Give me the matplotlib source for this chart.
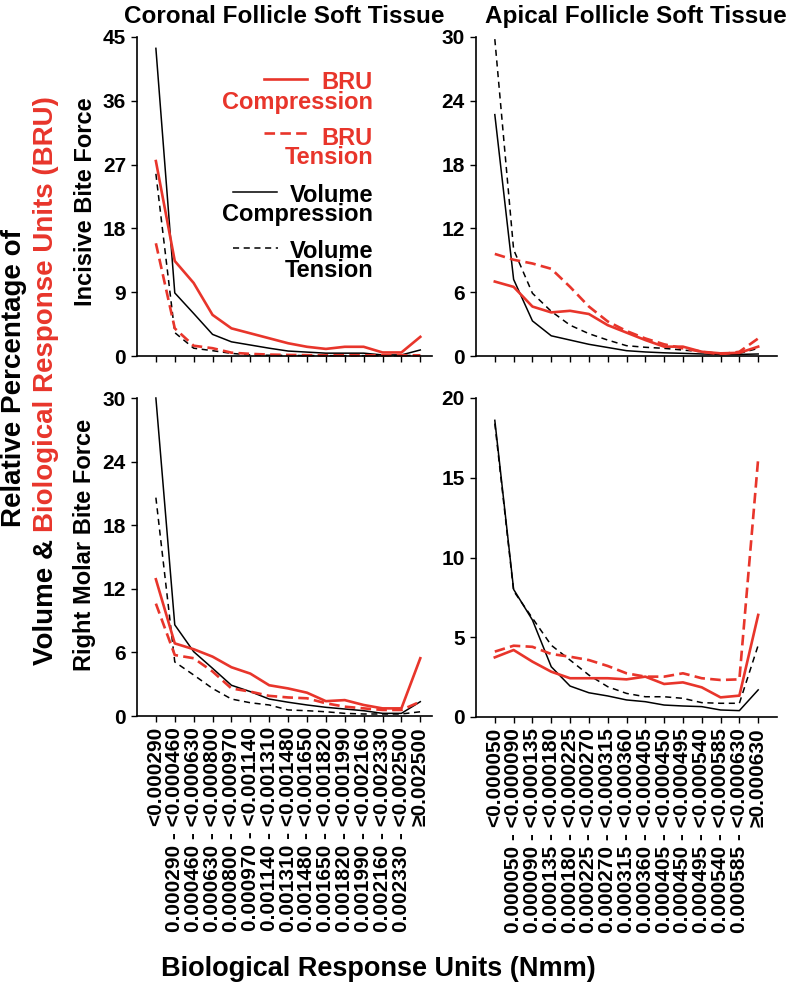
import matplotlib
matplotlib.use('Agg')
import matplotlib.pyplot as plt

plt.rcParams['font.family'] = ['Liberation Sans', 'DejaVu Sans']
plt.rcParams['font.weight'] = 'bold'

RED = '#e8352b'

# bin edges (Nmm) for the two tissues
coronal_edges = ['0.000290', '0.000460', '0.000630', '0.000800', '0.000970', '0.001140', '0.001310',
                 '0.001480', '0.001650', '0.001820', '0.001990', '0.002160', '0.002330', '0.002500']
apical_edges = ['0.000050', '0.000090', '0.000135', '0.000180', '0.000225', '0.000270', '0.000315',
                '0.000360', '0.000405', '0.000450', '0.000495', '0.000540', '0.000585', '0.000630']


def make_labels(edges):
    labels = ['<' + edges[0]]
    for lo, hi in zip(edges[:-1], edges[1:]):
        labels.append(lo + ' - <' + hi)
    labels.append('\u2265' + edges[-1])
    return labels


coronal_labels = make_labels(coronal_edges)
apical_labels = make_labels(apical_edges)

# incisive bite force, coronal follicle
inc_cor_bru_comp = [27.5, 13.4, 10.3, 5.8, 3.9, 3.2, 2.5, 1.8, 1.3, 1.0, 1.3, 1.3, 0.5, 0.5, 2.7]
inc_cor_bru_ten = [15.9, 3.9, 1.45, 1.1, 0.47, 0.3, 0.2, 0.15, 0.12, 0.1, 0.1, 0.1, 0.1, 0.1, 0.1]
inc_cor_vol_comp = [43.4, 8.9, 6.0, 3.05, 2.0, 1.55, 1.1, 0.7, 0.55, 0.4, 0.4, 0.4, 0.15, 0.15, 0.85]
inc_cor_vol_ten = [25.7, 3.3, 1.1, 0.75, 0.37, 0.15, 0.1, 0.08, 0.06, 0.05, 0.05, 0.05, 0.05, 0.05, 0.1]

# incisive bite force, apical follicle
inc_api_bru_comp = [7.0, 6.5, 4.65, 4.1, 4.25, 3.95, 2.9, 2.2, 1.5, 0.88, 0.88, 0.4, 0.25, 0.3, 0.88]
inc_api_bru_ten = [9.6, 9.05, 8.7, 8.2, 6.5, 4.65, 3.25, 2.35, 1.65, 1.1, 0.72, 0.4, 0.15, 0.4, 1.65]
inc_api_vol_comp = [22.7, 7.2, 3.3, 1.9, 1.5, 1.1, 0.8, 0.5, 0.38, 0.3, 0.25, 0.19, 0.15, 0.15, 0.19]
inc_api_vol_ten = [29.8, 10.0, 5.9, 4.2, 2.9, 2.1, 1.5, 0.97, 0.82, 0.72, 0.56, 0.4, 0.25, 0.25, 0.72]

# right molar bite force, coronal follicle
mol_cor_bru_comp = [12.9, 6.85, 6.3, 5.6, 4.6, 4.0, 2.9, 2.6, 2.2, 1.4, 1.5, 1.04, 0.72, 0.72, 5.45]
mol_cor_bru_ten = [10.6, 5.75, 5.45, 4.2, 2.6, 2.3, 1.9, 1.75, 1.67, 1.2, 0.88, 0.72, 0.57, 0.57, 1.35]
mol_cor_vol_comp = [30.0, 8.6, 6.07, 4.5, 2.9, 2.3, 1.6, 1.3, 1.04, 0.82, 0.66, 0.5, 0.25, 0.25, 1.35]
mol_cor_vol_ten = [20.6, 5.1, 3.87, 2.6, 1.6, 1.25, 1.04, 0.57, 0.5, 0.4, 0.25, 0.19, 0.19, 0.19, 0.4]

# right molar bite force, apical follicle
mol_api_bru_comp = [3.74, 4.2, 3.47, 2.84, 2.43, 2.43, 2.43, 2.36, 2.53, 2.07, 2.17, 1.86, 1.23, 1.34, 6.4]
mol_api_bru_ten = [4.1, 4.47, 4.4, 3.95, 3.78, 3.57, 3.2, 2.74, 2.53, 2.53, 2.74, 2.43, 2.32, 2.36, 16.2]
mol_api_vol_comp = [18.6, 8.0, 6.08, 3.15, 1.94, 1.52, 1.32, 1.07, 0.96, 0.75, 0.69, 0.65, 0.44, 0.4, 1.7]
mol_api_vol_ten = [18.4, 7.9, 6.2, 4.5, 3.57, 2.63, 1.9, 1.48, 1.27, 1.27, 1.17, 0.9, 0.86, 0.86, 4.5]

fig = plt.figure(figsize=(7.93, 9.92), dpi=100)
W, H = 793.0, 992.0


def px_axes(x0, y0, x1, y1):
    # pixel box (top-left origin) -> axes
    return fig.add_axes([x0 / W, 1 - y1 / H, (x1 - x0) / W, (y1 - y0) / H])


ax_tl = px_axes(137, 37, 432, 356)
ax_tr = px_axes(476, 37, 777, 356)
ax_bl = px_axes(137, 398, 432, 716)
ax_br = px_axes(476, 398, 777, 717)

panels = [
    (ax_tl, inc_cor_bru_comp, inc_cor_bru_ten, inc_cor_vol_comp, inc_cor_vol_ten, 45, [0, 9, 18, 27, 36, 45], None, 14.62),
    (ax_tr, inc_api_bru_comp, inc_api_bru_ten, inc_api_vol_comp, inc_api_vol_ten, 30, [0, 6, 12, 18, 24, 30], None, 15.0),
    (ax_bl, mol_cor_bru_comp, mol_cor_bru_ten, mol_cor_vol_comp, mol_cor_vol_ten, 30, [0, 6, 12, 18, 24, 30], coronal_labels, 14.62),
    (ax_br, mol_api_bru_comp, mol_api_bru_ten, mol_api_vol_comp, mol_api_vol_ten, 20, [0, 5, 10, 15, 20], apical_labels, 15.0),
]

for ax, bc, bt, vc, vt, ymax, yticks, xlabels, xmax in panels:
    x = list(range(len(bc)))
    ax.plot(x, vc, color='black', lw=1.1, clip_on=False)
    ax.plot(x, vt, color='black', lw=1.1, dashes=(4, 3), clip_on=False)
    ax.plot(x, bc, color=RED, lw=1.9, clip_on=False)
    ax.plot(x, bt, color=RED, lw=1.9, dashes=(4, 2), clip_on=False)
    ax.set_xlim(-1.0, xmax)
    ax.set_ylim(0, ymax)
    ax.set_yticks(yticks)
    ax.set_xticks(x)
    for s in ['top', 'right']:
        ax.spines[s].set_visible(False)
    for s in ['left', 'bottom']:
        ax.spines[s].set_linewidth(1.2)
    ax.tick_params(direction='out', length=4, width=1, pad=4)
    ax.tick_params(axis='y', labelsize=15)
    if xlabels is None:
        ax.set_xticklabels([])
    else:
        ax.set_xticklabels(xlabels, rotation=90, fontsize=15, va='top', ha='center')

ax_tl.set_title('Coronal Follicle Soft Tissue', fontsize=17.5, fontweight='bold', pad=10)
ax_tr.set_title('Apical Follicle Soft Tissue', fontsize=17.5, fontweight='bold', pad=10, x=0.532)

# legend drawn by hand inside the top-left panel
legend_rows = [
    (0.868, 0.43, 0.576, RED, 1.9, None, 'BRU\nCompression', 0.826),
    (0.699, 0.43, 0.576, RED, 1.9, (4, 2), 'BRU\nTension', 0.653),
    (0.514, 0.325, 0.475, 'black', 1.1, None, 'Volume\nCompression', 0.473),
    (0.339, 0.325, 0.478, 'black', 1.1, (4, 3), 'Volume\nTension', 0.298),
]
for ly, lx0, lx1, col, lw, dash, words, yc in legend_rows:
    kw = {} if dash is None else {'dashes': dash}
    ax_tl.plot([lx0, lx1], [ly, ly], color=col, lw=lw, transform=ax_tl.transAxes, clip_on=False, **kw)
    ax_tl.text(0.80, yc, words, color=col, fontsize=17, ha='right', va='center', multialignment='right',
               linespacing=0.78, transform=ax_tl.transAxes)

fig.text(85 / W, 1 - 202 / H, 'Incisive Bite Force', rotation=90, ha='center', va='center', fontsize=17)
fig.text(85 / W, 1 - 545 / H, 'Right Molar Bite Force', rotation=90, ha='center', va='center', fontsize=17)

fig.text(378 / W, 1 - 969 / H, 'Biological Response Units (Nmm)', ha='center', va='center', fontsize=19.5)

# two-line y label, second line in two colours
fig.text(14 / W, 1 - 378 / H, 'Relative Percentage of', rotation=90, ha='center', va='center', fontsize=20)
fig.canvas.draw()
r = fig.canvas.get_renderer()
full = fig.text(46 / W, 1 - 380 / H, 'Volume & Biological Response Units (BRU)', rotation=90,
                ha='center', va='center', fontsize=20, alpha=0)
bb = full.get_window_extent(r)
black_part = fig.text(46 / W, bb.y0 / H, 'Volume &', rotation=90, ha='center', va='bottom', fontsize=20)
bb2 = black_part.get_window_extent(r)
fig.text(46 / W, (bb2.y1 + 7) / H, 'Biological Response Units (BRU)', rotation=90, ha='center', va='bottom',
         fontsize=20, color=RED)
full.remove()

fig.savefig('out.png', dpi=100)
